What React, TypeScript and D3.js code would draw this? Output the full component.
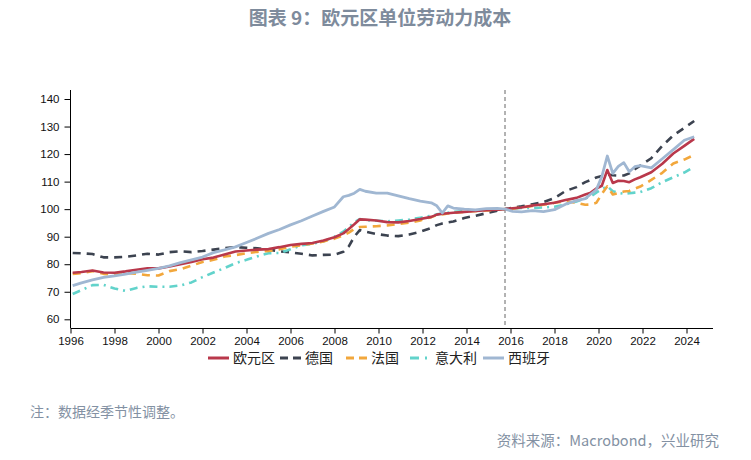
import React, { useEffect, useRef } from 'react';
import { select, scaleLinear, line, axisLeft, axisBottom } from 'd3';

// decimal years (mid-quarter)
const quarters = [1996.1, 1996.5, 1997.0, 1997.5, 1998.0, 1998.5, 1999.0, 1999.5, 2000.0, 2000.5,
  2001.0, 2001.5, 2002.0, 2002.5, 2003.0, 2003.5, 2004.0, 2004.5, 2005.0, 2005.5,
  2006.0, 2006.5, 2007.0, 2007.5, 2008.0, 2008.4, 2008.65, 2008.9, 2009.15, 2009.4,
  2009.9, 2010.4, 2010.9, 2011.4, 2011.9, 2012.4, 2012.65, 2012.9, 2013.15, 2013.4,
  2013.9, 2014.4, 2014.9, 2015.4, 2015.75, 2016.1, 2016.5, 2017.0, 2017.5, 2018.0,
  2018.5, 2019.0, 2019.4, 2019.65, 2019.9, 2020.15, 2020.4, 2020.65, 2020.9, 2021.15,
  2021.4, 2021.65, 2021.9, 2022.4, 2022.9, 2023.4, 2023.9, 2024.35];

const euroArea = [76.9, 77.2, 77.7, 77.0, 76.9, 77.4, 78.0, 78.5, 78.5, 79.2,
  80.0, 80.8, 81.8, 82.4, 83.5, 84.6, 85.0, 85.3, 85.5, 86.2,
  87.0, 87.4, 87.7, 88.6, 89.8, 91.2, 92.8, 94.5, 96.3, 96.2,
  95.9, 95.3, 95.2, 95.7, 96.4, 97.2, 98.0, 98.3, 98.5, 98.7,
  99.0, 99.3, 99.6, 99.8, 100, 100.3, 100.6, 101.3, 101.8, 102.3,
  103.3, 104.1, 105.3, 106.0, 107.5, 108.5, 114.2, 109.5, 110.3, 110.2,
  109.8, 110.8, 111.6, 113.4, 116.5, 120.2, 123.0, 125.5];

const germany = [84.1, 84.0, 83.7, 82.5, 82.5, 82.7, 83.2, 83.8, 83.5, 84.4,
  84.7, 84.4, 84.8, 85.3, 85.8, 86.2, 86.0, 85.8, 85.3, 84.7,
  84.3, 83.8, 83.2, 83.4, 83.5, 84.5, 86.5, 90.0, 92.4, 91.8,
  91.0, 90.4, 90.2, 90.8, 91.8, 93.2, 94.2, 94.8, 95.2, 95.5,
  96.8, 97.6, 98.5, 99.4, 100, 100.5, 101.0, 101.8, 102.6, 104.0,
  106.6, 108.0, 109.8, 110.6, 111.5, 112.0, 112.6, 112.3, 112.2, 112.2,
  113.0, 114.5, 115.8, 118.5, 123.0, 126.8, 129.5, 132.0];

const france = [76.5, 76.8, 77.5, 76.5, 76.2, 76.8, 76.5, 76.0, 75.9, 77.5,
  78.2, 79.5, 80.8, 81.6, 82.8, 83.3, 84.0, 84.5, 84.8, 85.4,
  86.4, 86.9, 87.5, 88.3, 89.3, 90.5, 91.5, 92.8, 93.5, 93.6,
  93.8, 94.1, 94.6, 95.1, 95.9, 97.1, 97.8, 98.1, 98.4, 98.6,
  99.0, 99.3, 99.5, 99.8, 100, 100.2, 100.6, 101.2, 101.6, 102.3,
  102.8, 102.3, 101.6, 101.7, 102.3, 105.5, 108.3, 105.3, 105.8, 106.4,
  106.6, 107.4, 108.2, 110.6, 113.2, 116.6, 118.0, 119.7];

const italy = [69.2, 70.6, 72.4, 72.5, 71.2, 70.3, 71.4, 72.0, 71.8, 71.8,
  72.3, 73.4, 75.3, 77.0, 78.6, 80.4, 81.6, 82.9, 84.0, 84.1,
  85.4, 86.9, 87.4, 88.3, 90.0, 91.8, 93.5, 95.2, 96.4, 96.0,
  95.8, 95.6, 95.9, 96.2, 96.9, 97.6, 98.1, 98.4, 98.7, 99.0,
  99.3, 99.5, 99.7, 99.9, 100, 100.2, 100.4, 100.4, 100.6, 100.9,
  101.7, 102.8, 103.9, 104.6, 106.0, 107.3, 108.3, 106.5, 105.9, 105.6,
  105.8, 106.0, 106.2, 107.6, 109.8, 111.6, 113.3, 115.4];

const spain = [72.2, 73.2, 74.3, 75.2, 75.8, 76.4, 77.1, 77.8, 78.5, 79.4,
  80.6, 81.6, 82.6, 84.2, 85.2, 86.3, 87.9, 89.5, 91.2, 92.6,
  94.3, 95.8, 97.5, 99.2, 100.8, 104.5, 105.0, 105.8, 107.2, 106.5,
  105.8, 105.8, 104.8, 103.8, 102.9, 102.3, 101.2, 98.6, 101.2, 100.4,
  100.0, 99.7, 100.2, 100.3, 100, 99.2, 99.0, 99.5, 99.1, 99.8,
  101.8, 103.1, 103.8, 105.5, 107.0, 111.8, 119.3, 113.0, 115.5, 116.9,
  113.6, 115.4, 115.8, 115.0, 118.3, 121.6, 125.0, 126.3];

const yearTicks = [1996, 1998, 2000, 2002, 2004, 2006, 2008, 2010, 2012, 2014, 2016, 2018, 2020, 2022, 2024];
const valueTicks = [60, 70, 80, 90, 100, 110, 120, 130, 140];
const baseQuarter = 2015.75;

const seriesList = [
  { name: '德国', values: germany, color: '#3c4350', dash: '8,6', width: 2.6 },
  { name: '意大利', values: italy, color: '#62d3cb', dash: '8,5,2,5', width: 2.6 },
  { name: '法国', values: france, color: '#f2a73c', dash: '8,6', width: 2.6 },
  { name: '欧元区', values: euroArea, color: '#b9384b', dash: null, width: 2.6 },
  { name: '西班牙', values: spain, color: '#a0b7d2', dash: null, width: 2.8 },
];
const legendOrder = ['欧元区', '德国', '法国', '意大利', '西班牙'];

const App = () => {
  const svgRef = useRef(null);

  useEffect(() => {
    const svg = select(svgRef.current);
    svg.selectAll('*').remove();

    const x = scaleLinear().domain([1996, 2024]).range([70.5, 686.5]);
    const y = scaleLinear().domain([60, 140]).range([319.3, 99]);
    const axisFont = '"Liberation Sans", Arial, sans-serif';
    const cjk = '"Noto Sans CJK SC", sans-serif';

    // title
    svg.append('text')
      .attr('x', 380).attr('y', 25)
      .attr('text-anchor', 'middle')
      .attr('font-family', cjk).attr('font-size', 19).attr('font-weight', 700)
      .attr('fill', '#7e8b9c')
      .text('图表 9：欧元区单位劳动力成本');

    // base quarter marker
    svg.append('line')
      .attr('x1', x(baseQuarter)).attr('x2', x(baseQuarter))
      .attr('y1', 90).attr('y2', 328)
      .attr('stroke', '#666').attr('stroke-width', 1).attr('stroke-dasharray', '4,3');

    const pathGen = line().x((d) => x(d[0])).y((d) => y(d[1]));
    seriesList.forEach((s) => {
      svg.append('path')
        .datum(quarters.map((q, i) => [q, s.values[i]]))
        .attr('d', pathGen)
        .attr('fill', 'none')
        .attr('stroke', s.color)
        .attr('stroke-width', s.width)
        .attr('stroke-dasharray', s.dash)
        .attr('stroke-linejoin', 'round');
    });

    // y axis
    const gy = svg.append('g').attr('transform', 'translate(70.5,0)')
      .call(axisLeft(y).tickValues(valueTicks).tickSize(6).tickPadding(5));
    gy.select('.domain').remove();
    gy.append('line').attr('y1', 90).attr('y2', 328).attr('stroke', '#000');
    gy.selectAll('text').attr('font-family', axisFont).attr('font-size', 11.5).attr('fill', '#111');

    // x axis
    const gx = svg.append('g').attr('transform', 'translate(0,328.5)')
      .call(axisBottom(x).tickValues(yearTicks).tickSize(5).tickPadding(3).tickFormat((d) => String(d)));
    gx.select('.domain').remove();
    gx.append('line').attr('x1', 70.5).attr('x2', 713).attr('stroke', '#000');
    gx.selectAll('text').attr('font-family', axisFont).attr('font-size', 11.5).attr('fill', '#111');

    // legend
    const legendX = [208, 280, 346, 410, 483];
    legendOrder.forEach((name, i) => {
      const s = seriesList.find((d) => d.name === name);
      const g = svg.append('g').attr('transform', `translate(${legendX[i]},358)`);
      g.append('line')
        .attr('x1', 0).attr('x2', 21).attr('y1', 0).attr('y2', 0)
        .attr('stroke', s.color).attr('stroke-width', 3)
        .attr('stroke-dasharray', s.dash ? (name === '意大利' ? '9,6,2,6' : '8,5') : null);
      g.append('text')
        .attr('x', 25).attr('y', 5)
        .attr('font-family', cjk).attr('font-size', 14).attr('fill', '#222')
        .text(name);
    });

    // notes
    svg.append('text')
      .attr('x', 30).attr('y', 417)
      .attr('font-family', cjk).attr('font-size', 14).attr('fill', '#8391a3')
      .text('注：数据经季节性调整。');
    svg.append('text')
      .attr('x', 719).attr('y', 446)
      .attr('text-anchor', 'end')
      .attr('font-family', cjk).attr('font-size', 14.5).attr('fill', '#8391a3')
      .text('资料来源：Macrobond，兴业研究');
  }, []);

  return (
    <div style={{ position: 'absolute', left: 0, top: 0 }}>
      <svg ref={svgRef} width={751} height={460} style={{ display: 'block', background: '#fff' }} />
    </div>
  );
};

export default App;
